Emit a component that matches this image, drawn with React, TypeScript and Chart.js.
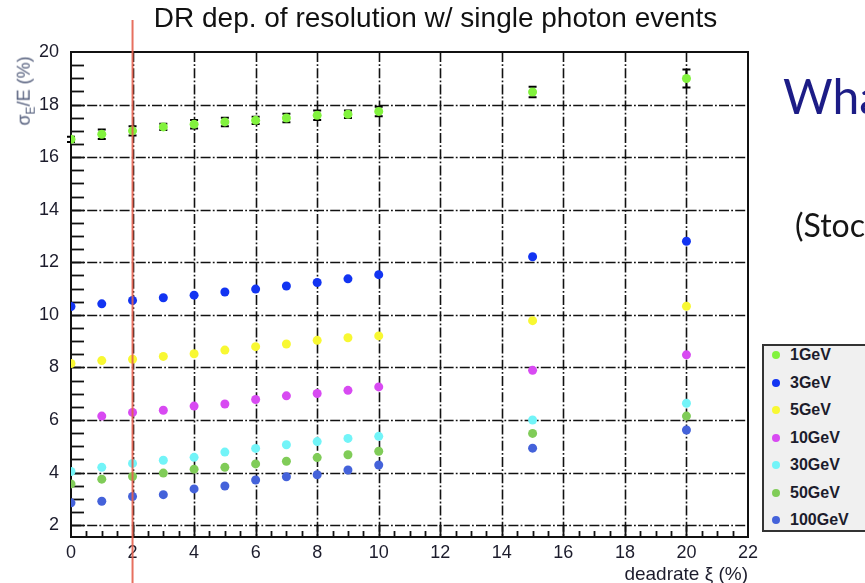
import { useEffect, useRef } from 'react';
import { Chart, registerables } from 'chart.js';

Chart.register(...registerables);

// ---- data ----
const deadrate = [0, 1, 2, 3, 4, 5, 6, 7, 8, 9, 10, 15, 20];
const seriesNames = ['1GeV', '3GeV', '5GeV', '10GeV', '30GeV', '50GeV', '100GeV'];
const seriesColors = ['#82f23e', '#1234f2', '#f8f832', '#d84af2', '#72f4f8', '#80cc58', '#4462da'];
const res1GeV = [16.68, 16.87, 17.0, 17.15, 17.25, 17.34, 17.4, 17.49, 17.59, 17.63, 17.74, 18.48, 18.99];
const err1GeV = [0.1, 0.18, 0.18, 0.12, 0.16, 0.16, 0.14, 0.16, 0.18, 0.14, 0.18, 0.2, 0.34];
const res3GeV = [10.32, 10.42, 10.55, 10.65, 10.75, 10.87, 10.98, 11.1, 11.23, 11.37, 11.53, 12.21, 12.8];
const res5GeV = [8.15, 8.26, 8.31, 8.42, 8.52, 8.66, 8.79, 8.89, 9.03, 9.13, 9.2, 9.78, 10.33];
const res10GeV = [null, 6.15, 6.29, 6.37, 6.53, 6.61, 6.78, 6.92, 7.01, 7.13, 7.26, 7.89, 8.48];
const res30GeV = [4.04, 4.2, 4.35, 4.47, 4.58, 4.78, 4.92, 5.06, 5.18, 5.3, 5.38, 6.0, 6.64];
const res50GeV = [3.57, 3.75, 3.85, 3.98, 4.13, 4.2, 4.33, 4.43, 4.57, 4.68, 4.81, 5.49, 6.15];
const res100GeV = [2.85, 2.91, 3.09, 3.16, 3.38, 3.49, 3.72, 3.84, 3.92, 4.1, 4.29, 4.93, 5.62];
const seriesValues = [res1GeV, res3GeV, res5GeV, res10GeV, res30GeV, res50GeV, res100GeV];

const xTickValues = [0, 2, 4, 6, 8, 10, 12, 14, 16, 18, 20, 22];
const yTickValues = [2, 4, 6, 8, 10, 12, 14, 16, 18, 20];
const xMin = 0, xMax = 22, yMin = 1.55, yMax = 20;
const markerLine = 2; // red vertical line at deadrate = 2 %

const FONT = '"Liberation Sans", Arial, Helvetica, sans-serif';

const rootFrame = {
  id: 'rootFrame',
  beforeDatasetsDraw(chart: any) {
    const { ctx, chartArea: a, scales } = chart;
    const x = scales.x, y = scales.y;
    ctx.save();
    // dash-dot grid
    ctx.strokeStyle = '#111';
    ctx.lineWidth = 1.6;
    ctx.setLineDash([10, 2.2, 1.8, 2.2]);
    for (const v of xTickValues) {
      if (v <= xMin || v >= xMax) continue;
      const px = Math.round(x.getPixelForValue(v)) + 0.5;
      ctx.beginPath(); ctx.moveTo(px, a.top); ctx.lineTo(px, a.bottom); ctx.stroke();
    }
    for (const v of yTickValues) {
      if (v <= yMin || v >= yMax) continue;
      const py = Math.round(y.getPixelForValue(v)) + 0.5;
      ctx.beginPath(); ctx.moveTo(a.left, py); ctx.lineTo(a.right, py); ctx.stroke();
    }
    ctx.setLineDash([]);
    // ticks
    ctx.lineWidth = 1.8;
    for (let v = xMin + 0.5; v < xMax; v += 0.5) {
      const px = Math.round(x.getPixelForValue(v)) + 0.5;
      const len = Math.abs(v % 2) < 1e-6 ? 12 : 6;
      ctx.beginPath(); ctx.moveTo(px, a.bottom); ctx.lineTo(px, a.bottom - len); ctx.stroke();
    }
    for (let v = 2; v < yMax; v += 0.5) {
      if (v < yMin) continue;
      const py = Math.round(y.getPixelForValue(v)) + 0.5;
      ctx.beginPath(); ctx.moveTo(a.left, py); ctx.lineTo(a.left + 13, py); ctx.stroke();
    }
    // frame
    ctx.lineWidth = 2;
    ctx.strokeRect(a.left, a.top, a.right - a.left, a.bottom - a.top);
    ctx.restore();
  },
};

const errorBars = {
  id: 'errorBars',
  beforeDatasetsDraw(chart: any) {
    const { ctx, scales } = chart;
    const x = scales.x, y = scales.y;
    ctx.save();
    ctx.strokeStyle = '#000';
    ctx.lineWidth = 2;
    deadrate.forEach((d, i) => {
      const px = x.getPixelForValue(d);
      const top = y.getPixelForValue(res1GeV[i] + err1GeV[i]);
      const bot = y.getPixelForValue(res1GeV[i] - err1GeV[i]);
      ctx.beginPath();
      ctx.moveTo(px, top); ctx.lineTo(px, bot);
      ctx.moveTo(px - 4, top); ctx.lineTo(px + 4, top);
      ctx.moveTo(px - 4, bot); ctx.lineTo(px + 4, bot);
      ctx.stroke();
    });
    ctx.restore();
  },
};

const redMarker = {
  id: 'redMarker',
  afterDraw(chart: any) {
    const { ctx, scales } = chart;
    const px = scales.x.getPixelForValue(markerLine);
    ctx.save();
    ctx.strokeStyle = 'rgba(228, 96, 78, 0.9)';
    ctx.lineWidth = 2;
    ctx.beginPath(); ctx.moveTo(px, 20); ctx.lineTo(px, chart.height); ctx.stroke();
    ctx.restore();
  },
};

export default function App() {
  const ref = useRef<HTMLCanvasElement | null>(null);

  useEffect(() => {
    if (!ref.current) return;
    const datasets = seriesNames.map((name, s) => ({
      label: name,
      data: deadrate
        .map((d, i) => ({ x: d, y: seriesValues[s][i] }))
        .filter((p) => p.y !== null),
      backgroundColor: seriesColors[s],
      borderColor: seriesColors[s],
      pointRadius: 4.5,
      pointBorderWidth: 0,
      showLine: false,
    }));
    const chart = new Chart(ref.current, {
      type: 'scatter',
      data: { datasets },
      options: {
        animation: false,
        responsive: true,
        maintainAspectRatio: false,
        layout: { padding: { left: 11, right: 117, top: 52, bottom: 0 } },
        plugins: { legend: { display: false }, tooltip: { enabled: false }, title: { display: false } },
        scales: {
          x: {
            type: 'linear', min: xMin, max: xMax,
            afterBuildTicks: (s: any) => { s.ticks = xTickValues.map((v) => ({ value: v })); },
            afterFit: (s: any) => { s.height = 46; },
            grid: { display: false }, border: { display: false },
            ticks: { font: { family: FONT, size: 18 }, color: '#1c1c2c', padding: -3, maxRotation: 0, autoSkip: false },
          },
          y: {
            type: 'linear', min: yMin, max: yMax,
            afterBuildTicks: (s: any) => { s.ticks = yTickValues.map((v) => ({ value: v })); },
            afterFit: (s: any) => { s.width = 60; },
            grid: { display: false }, border: { display: false },
            ticks: { font: { family: FONT, size: 18 }, color: '#1c1c2c', padding: 4, autoSkip: false },
          },
        },
      },
      plugins: [rootFrame, errorBars, redMarker],
    } as any);
    return () => chart.destroy();
  }, []);

  return (
    <div style={{ position: 'fixed', left: 0, top: 0, width: 865, height: 583, overflow: 'hidden', background: '#fff', fontFamily: FONT }}>
      <div style={{ position: 'absolute', left: 0, top: 0, width: 865, height: 583 }}>
        <canvas ref={ref} />
      </div>
      <div style={{ position: 'absolute', left: 0, width: 871, top: 4, textAlign: 'center', fontSize: 28, lineHeight: '28px', color: '#111', whiteSpace: 'nowrap' }}>
        DR dep. of resolution w/ single photon events
      </div>
      <div style={{ position: 'absolute', left: 27, top: 91, transform: 'translate(-50%, -50%) rotate(-90deg)', fontSize: 18, lineHeight: '18px', color: '#56607e', whiteSpace: 'nowrap' }}>
        σ<sub style={{ fontSize: 12 }}>E</sub>/E (%)
      </div>
      <div style={{ position: 'absolute', right: 117, top: 564, fontSize: 19, lineHeight: '19px', color: '#1c1c2c', whiteSpace: 'nowrap' }}>
        deadrate ξ (%)
      </div>
      <div style={{ position: 'absolute', left: 762, top: 344, width: 130, height: 188, border: '2px solid #333', background: '#f0f0f0', boxSizing: 'border-box' }}>
        {seriesNames.map((name, i) => (
          <div key={name} style={{ position: 'absolute', left: 0, top: i * 27.5, height: 20 }}>
            <span style={{ position: 'absolute', left: 8, top: 5, width: 8, height: 8, borderRadius: 4, background: seriesColors[i] }} />
            <span style={{ position: 'absolute', left: 26, top: 0, fontSize: 16, lineHeight: '18px', fontWeight: 'bold', color: '#1c1c2c', whiteSpace: 'nowrap' }}>{name}</span>
          </div>
        ))}
      </div>
      <div style={{ position: 'absolute', left: 783, top: 72, fontSize: 48, lineHeight: '48px', color: '#1c1c86', fontFamily: 'Lato, "Open Sans", sans-serif', whiteSpace: 'nowrap' }}>
        Wha
      </div>
      <div style={{ position: 'absolute', left: 795, top: 209, fontSize: 32, lineHeight: '32px', color: '#151515', fontFamily: 'Lato, "Open Sans", sans-serif', whiteSpace: 'nowrap' }}>
        (Stoc
      </div>
    </div>
  );
}
